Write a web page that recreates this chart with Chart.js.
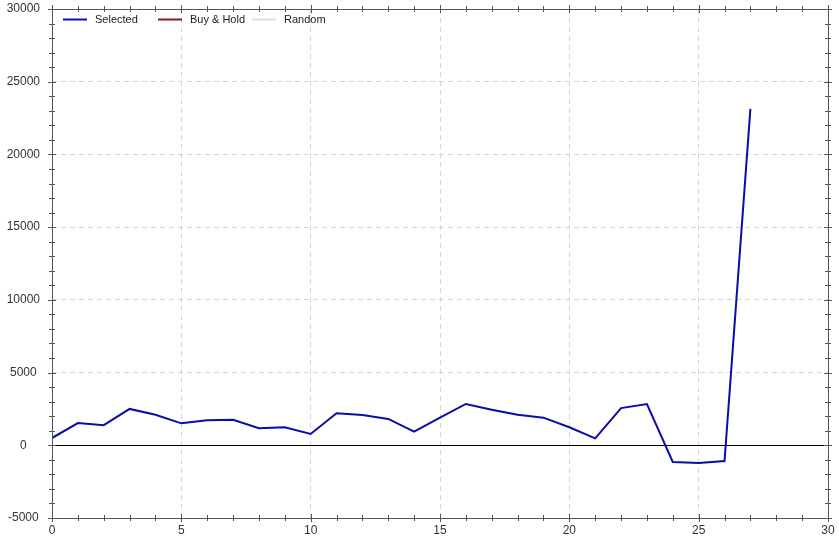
<!DOCTYPE html>
<html>
<head>
<meta charset="utf-8">
<script src="https://cdn.jsdelivr.net/npm/chart.js@4.4.1/dist/chart.umd.min.js"></script>
<style>
  html, body { margin: 0; padding: 0; background: #fff; }
</style>
</head>
<body>
<canvas id="equity" width="839" height="543"></canvas>
<script>
// trade index / cumulative profit
const tradeIdx = [0, 1, 2, 3, 4, 5, 6, 7, 8, 9, 10, 11, 12, 13, 14, 15, 16, 17, 18, 19, 20, 21, 22, 23, 24, 25, 26, 27];
const selected = [500, 1530, 1380, 2500, 2100, 1510, 1720, 1760, 1170, 1240, 780, 2200, 2080, 1810, 940, 1900, 2840, 2450, 2100, 1900, 1240, 480, 2560, 2840, -1150, -1220, -1080, 23130];
const buyHold = [];
const random = [];

const seriesNames = ['Selected', 'Buy & Hold', 'Random'];
const seriesColors = ['#0c0caa', '#8b1c1c', '#dcdcdc'];

const xTicks = [0, 5, 10, 15, 20, 25, 30];
const yTicks = [-5000, 0, 5000, 10000, 15000, 20000, 25000, 30000];

const FONT = 'Arial, "Liberation Sans", sans-serif';

function toPoints(ys) {
  return ys.map((y, i) => ({ x: tradeIdx[i], y }));
}

// frame, minor ticks, zero line and the in-plot legend
const decorPlugin = {
  id: 'decor',
  beforeDatasetsDraw(chart) {
    const { ctx, chartArea: a, scales } = chart;
    const y0 = Math.round(scales.y.getPixelForValue(0)) + 0.5;
    ctx.save();
    ctx.strokeStyle = '#000';
    ctx.lineWidth = 1;
    ctx.beginPath();
    ctx.moveTo(a.left, y0);
    ctx.lineTo(a.right, y0);
    ctx.stroke();
    ctx.restore();
  },
  afterDraw(chart) {
    const { ctx, chartArea: a, scales } = chart;
    ctx.save();
    ctx.strokeStyle = '#555';
    ctx.lineWidth = 1;
    ctx.strokeRect(Math.round(a.left) + 0.5, Math.round(a.top) + 0.5,
      Math.round(a.right - a.left), Math.round(a.bottom - a.top));

    ctx.beginPath();
    for (let v = 0; v <= 30; v++) {
      const px = Math.round(scales.x.getPixelForValue(v)) + 0.5;
      const len = v % 5 === 0 ? 4 : 3;
      ctx.moveTo(px, a.bottom - len); ctx.lineTo(px, a.bottom + len);
      ctx.moveTo(px, a.top - len); ctx.lineTo(px, a.top + len);
    }
    for (let v = -5000; v <= 30000; v += 1000) {
      const py = Math.round(scales.y.getPixelForValue(v)) + 0.5;
      const len = v % 5000 === 0 ? 4 : 3;
      ctx.moveTo(a.left - len, py); ctx.lineTo(a.left + len, py);
      ctx.moveTo(a.right - len, py); ctx.lineTo(a.right + len, py);
    }
    ctx.stroke();

    // legend
    const xs = [63, 158, 252];
    const ly = 19.5;
    ctx.font = '11px ' + FONT;
    ctx.textBaseline = 'middle';
    chart.data.datasets.forEach((ds, i) => {
      ctx.strokeStyle = ds.borderColor;
      ctx.lineWidth = 2;
      ctx.beginPath();
      ctx.moveTo(xs[i], ly);
      ctx.lineTo(xs[i] + 24, ly);
      ctx.stroke();
      ctx.fillStyle = '#222';
      ctx.fillText(ds.label, xs[i] + 32, ly);
    });
    ctx.restore();
  }
};

const datasets = [selected, buyHold, random].map((d, i) => ({
  label: seriesNames[i],
  data: toPoints(d),
  borderColor: seriesColors[i],
  backgroundColor: seriesColors[i],
  borderWidth: 2,
  pointRadius: 0,
  tension: 0,
  fill: false
}));

new Chart(document.getElementById('equity'), {
  type: 'line',
  data: { datasets },
  options: {
    responsive: false,
    animation: false,
    layout: { padding: { top: 9, right: 11, left: 0, bottom: 0 } },
    plugins: {
      legend: { display: false },
      tooltip: { enabled: false }
    },
    scales: {
      x: {
        type: 'linear',
        min: 0,
        max: 30,
        afterBuildTicks: s => { s.ticks = xTicks.map(v => ({ value: v })); },
        afterFit: s => { s.height = 25; s.paddingLeft = 0; s.paddingRight = 0; },
        ticks: { color: '#333', font: { size: 12, family: FONT }, padding: 5, maxRotation: 0, callback: v => String(v) },
        grid: { color: '#d4d4d4', drawTicks: false, lineWidth: 1 },
        border: { display: false, dash: [5, 4] }
      },
      y: {
        type: 'linear',
        min: -5000,
        max: 30000,
        afterBuildTicks: s => { s.ticks = yTicks.map(v => ({ value: v })); },
        afterFit: s => { s.width = 52; s.paddingTop = 0; s.paddingBottom = 0; },
        ticks: { color: '#333', font: { size: 12, family: FONT }, padding: 12, crossAlign: 'center', callback: v => String(v) },
        grid: { color: '#d4d4d4', drawTicks: false, lineWidth: 1 },
        border: { display: false, dash: [5, 4] }
      }
    }
  },
  plugins: [decorPlugin]
});
</script>
</body>
</html>
